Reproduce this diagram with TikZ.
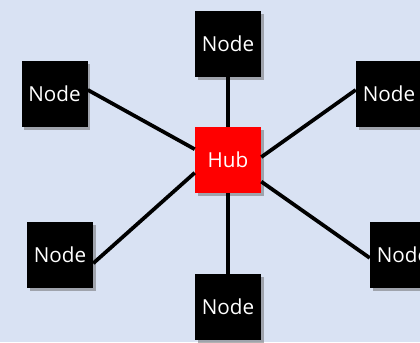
\documentclass[tikz,border=0pt]{standalone}
\usepackage{fontspec}
\setmainfont{Open Sans}
\usetikzlibrary{shadows}

\definecolor{bgblue}{RGB}{217,226,243}
\definecolor{hubred}{RGB}{255,0,0}

\tikzset{
  box/.style={fill=black, text=white, minimum size=49.5pt, inner sep=0pt,
    font=\fontsize{15.5}{18}\selectfont,
    drop shadow={shadow xshift=2pt, shadow yshift=-2pt, opacity=0.5, fill=black!60}},
  hubbox/.style={box, fill=hubred},
  link/.style={line width=2.8pt, black}
}

\begin{document}
\begin{tikzpicture}[x=0.75pt,y=0.75pt,yscale=-1,xscale=1]
  % background and page size
  \fill[bgblue] (0,0) rectangle (420,342);
  \useasboundingbox (0,0) rectangle (420,342);
  \clip (0,0) rectangle (420,342);

  % hub in the middle
  \node[hubbox] (hub) at (228,160) {Hub};

  % outer nodes
  \node[box] (top) at (228,44) {Node};
  \node[box] (lefttop) at (54.5,94) {Node};
  \node[box] (righttop) at (389,94) {Node};
  \node[box] (leftbot) at (60,255) {Node};
  \node[box] (rightbot) at (403,255) {Node};
  \node[box] (bot) at (228,307) {Node};

  % spokes
  \draw[link] (top) -- (hub);
  \draw[link] (bot) -- (hub);
  \draw[link] (lefttop.7) -- (hub.162);
  \draw[link] (righttop.173) -- (hub.5);
  \draw[link] (leftbot.346) -- (hub.201);
  \draw[link] (rightbot.185) -- (hub.327);
\end{tikzpicture}
\end{document}
